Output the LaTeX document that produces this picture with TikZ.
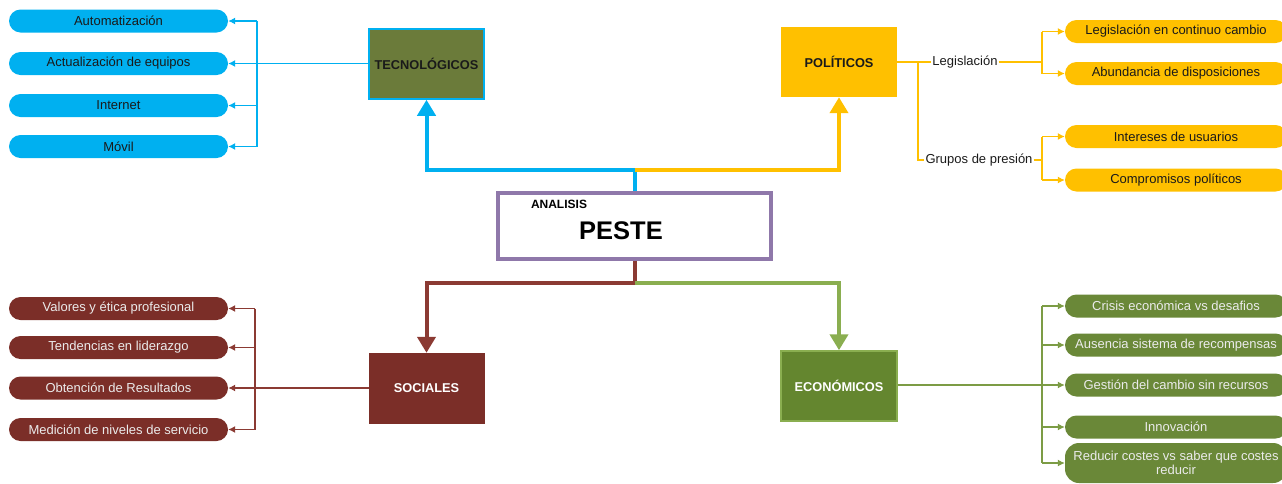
\documentclass[tikz,border=0pt]{standalone}
\usepackage{fontspec}
\setmainfont{Liberation Sans}
\usetikzlibrary{arrows.meta}
\definecolor{cyanC}{HTML}{00B0F0}
\definecolor{yelC}{HTML}{FFC000}
\definecolor{brnF}{HTML}{7B2E28}
\definecolor{brnL}{HTML}{8B3A33}
\definecolor{oliveF}{HTML}{6B7B3A}
\definecolor{ecoF}{HTML}{64862F}
\definecolor{ecoB}{HTML}{8AAE50}
\definecolor{grnP}{HTML}{6A8838}
\definecolor{grnL}{HTML}{7C9C45}
\definecolor{purC}{HTML}{8F78AA}
\definecolor{txtD}{HTML}{1A1A1A}
\tikzset{
  base/.style={font=\fontsize{13}{14.5}\selectfont},
  pill/.style={base,rounded corners=11.5pt,minimum width=219pt,minimum height=23pt,inner sep=0pt,align=center},
  catbox/.style={font=\fontsize{12.8}{14}\selectfont\bfseries,minimum width=115pt,minimum height=70pt,inner sep=0pt},
  thick arrow/.style={line width=4pt,-{Triangle[length=16pt,width=18pt]}},
  thick line/.style={line width=4pt},
  thin/.style={line width=1.2pt},
  tip/.style={-{Latex[length=7pt,width=7pt]}},
  lbl/.style={base,inner sep=1pt,text=txtD}
}
\begin{document}
\begin{tikzpicture}[x=1pt,y=-1pt]
\useasboundingbox (0,0) rectangle (1282,483);
% central box
\node[draw=purC,line width=4pt,fill=white,minimum width=273pt,minimum height=66pt,inner sep=0pt] (peste) at (634.5,226) {};
\node[font=\fontsize{12}{14}\selectfont\bfseries,inner sep=0pt] (ana) at (559,204) {ANALISIS};
\node[font=\fontsize{25.5}{28}\selectfont\bfseries,inner sep=0pt] (pst) at (621,231) {PESTE};
% category boxes
\node[catbox,fill=oliveF,draw=cyanC,line width=1.5pt,text=txtD] (tec) at (426.5,64) {TECNOLÓGICOS};
\node[catbox,fill=yelC,text=txtD,minimum width=116pt] (pol) at (839,62) {POLÍTICOS};
\node[catbox,fill=brnF,draw=brnF,text=white] (soc) at (426.5,388) {SOCIALES};
\node[catbox,fill=ecoF,draw=ecoB,line width=1.5pt,text=white,minimum width=116pt] (eco) at (839,386) {ECONÓMICOS};
% junctions
\coordinate (jt) at (634.5,170);
\coordinate (jb) at (634.5,283);
% thick connectors
\draw[thick line,cyanC] (peste.north) -- (jt);
\draw[thick arrow,cyanC] (jt) -| (tec.south);
\draw[thick arrow,yelC] (jt) -| (pol.south);
\draw[thick line,brnL] (peste.south) -- (jb);
\draw[thick arrow,brnL] (jb) -| (soc.north);
\draw[thick arrow,ecoB] (jb) -| (eco.north);
% technological pills
\node[pill,fill=cyanC,text=txtD] (t1) at (118.5,21) {Automatización};
\node[pill,fill=cyanC,text=txtD] (t2) at (118.5,63.5) {Actualización de equipos};
\node[pill,fill=cyanC,text=txtD] (t3) at (118.5,105.5) {Internet};
\node[pill,fill=cyanC,text=txtD] (t4) at (118.5,146.5) {Móvil};
\coordinate (tbus) at (257,63.5);
\draw[thin,cyanC] (tec.west |- t2) -- (tbus);
\draw[thin,cyanC] (tbus |- t1) -- (tbus |- t4);
\foreach \p in {t1,t2,t3,t4} \draw[thin,cyanC,tip] (tbus |- \p) -- (\p.east);
% social pills
\node[pill,fill=brnF,text=white!92!black] (s1) at (118.5,308.5) {Valores y ética profesional};
\node[pill,fill=brnF,text=white!92!black] (s2) at (118.5,347.5) {Tendencias en liderazgo};
\node[pill,fill=brnF,text=white!92!black] (s3) at (118.5,388) {Obtención de Resultados};
\node[pill,fill=brnF,text=white!92!black] (s4) at (118.5,429.5) {Medición de niveles de servicio};
\coordinate (sbus) at (255,388);
\draw[thin,brnL] (soc.west) -- (sbus);
\draw[thin,brnL] (sbus |- s1) -- (sbus |- s4);
\foreach \p in {s1,s2,s3,s4} \draw[thin,brnL,tip] (sbus |- \p) -- (\p.east);
% political
\node[lbl] (leg) at (965,62) {Legislación};
\node[lbl] (gru) at (979,160) {Grupos de presión};
\node[pill,fill=yelC,text=txtD,minimum width=222pt] (p1) at (1176,31.5) {Legislación en continuo cambio};
\node[pill,fill=yelC,text=txtD,minimum width=222pt] (p2) at (1176,73.5) {Abundancia de disposiciones};
\node[pill,fill=yelC,text=txtD,minimum width=222pt] (p3) at (1176,136.5) {Intereses de usuarios};
\node[pill,fill=yelC,text=txtD,minimum width=222pt] (p4) at (1176,180) {Compromisos políticos};
\coordinate (pv) at (918,62);
\draw[thin,yelC] (pol.east |- leg) -- (leg.west);
\draw[thin,yelC] (pv) |- (gru.west);
\coordinate (lbus) at (1042,62);
\coordinate (gbus) at (1042,160);
\draw[thin,yelC] (leg.east) -- (lbus);
\draw[thin,yelC] (gru.east) -- (gbus);
\draw[thin,yelC] (lbus |- p1) -- (lbus |- p2);
\draw[thin,yelC] (gbus |- p3) -- (gbus |- p4);
\foreach \p in {p1,p2} \draw[thin,yelC,tip] (lbus |- \p) -- (\p.west);
\foreach \p in {p3,p4} \draw[thin,yelC,tip] (gbus |- \p) -- (\p.west);
% economic pills
\node[pill,fill=grnP,text=white!92!black,minimum width=222pt] (e1) at (1176,306) {Crisis económica vs desafios};
\node[pill,fill=grnP,text=white!92!black,minimum width=222pt] (e2) at (1176,345) {Ausencia sistema de recompensas};
\node[pill,fill=grnP,text=white!92!black,minimum width=222pt] (e3) at (1176,385) {Gestión del cambio sin recursos};
\node[pill,fill=grnP,text=white!92!black,minimum width=222pt] (e4) at (1176,427) {Innovación};
\node[pill,fill=grnP,text=white!92!black,minimum width=222pt,minimum height=40pt,rounded corners=14pt] (e5) at (1176,463) {Reducir costes vs saber que costes\\reducir};
\coordinate (ebus) at (1042,385);
\draw[thin,grnL] (eco.east |- e3) -- (ebus);
\draw[thin,grnL] (ebus |- e1) -- (ebus |- e5);
\foreach \p in {e1,e2,e3,e4,e5} \draw[thin,grnL,tip] (ebus |- \p) -- (\p.west);
\end{tikzpicture}
\end{document}
